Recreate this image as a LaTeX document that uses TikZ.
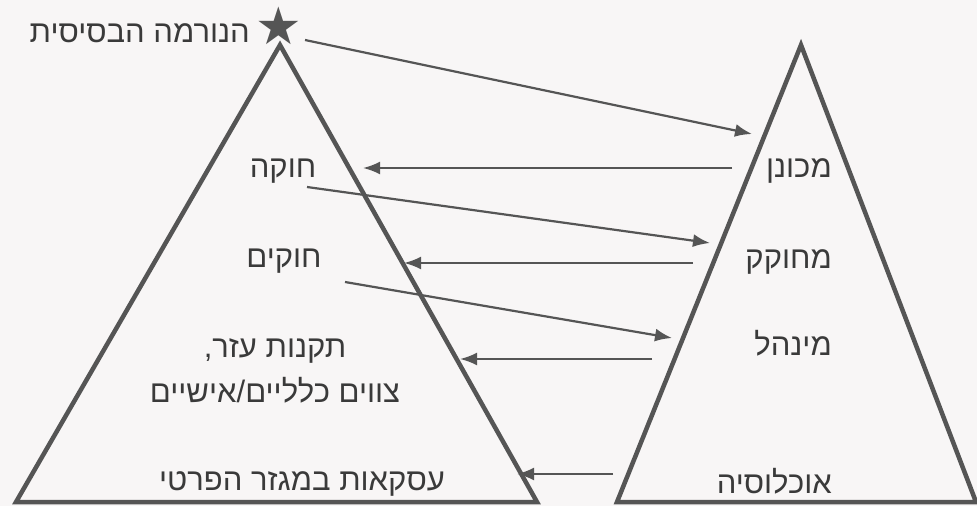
\documentclass[tikz,border=0pt]{standalone}
\usepackage{fontspec}
\TeXXeTstate=1
\newfontfamily\hebfont[Script=Hebrew]{Liberation Sans}
\newfontfamily\symfont{DejaVu Sans}
\usetikzlibrary{arrows.meta}
\definecolor{ink}{HTML}{555555}
\definecolor{txt}{HTML}{3A3A3A}
\definecolor{bg}{HTML}{F8F6F6}
\begin{document}
\begin{tikzpicture}[x=1pt,y=-1pt,
  tri/.style={draw=ink, line width=4.5pt, line join=miter},
  conn/.style={draw=ink, line width=2.2pt, -{Latex[length=17pt,width=13pt]}},
  lbl/.style={text=txt, font=\hebfont\fontsize{31}{36}\selectfont, inner sep=0pt},
]
\fill[bg] (0,0) rectangle (977,506);
\useasboundingbox (0,0) rectangle (977,506);
% triangles
\coordinate (LA) at (280,45);
\coordinate (LB) at (16,502);
\coordinate (LC) at (537,502);
\coordinate (RA) at (801,45);
\coordinate (RB) at (617,502);
\coordinate (RC) at (976,502);
\draw[tri] (LA) -- (LC) -- (LB) -- cycle;
\draw[tri] (RA) -- (RC) -- (RB) -- cycle;
% labels
\node[lbl, anchor=base east] (norm) at (250,42) {\beginR הנורמה הבסיסית\endR};
\node[text=ink, font=\symfont\fontsize{52}{52}\selectfont, inner sep=0pt] (star) at (279,26) {★};
\node[lbl, anchor=base] (hukka) at (283,177) {\beginR חוקה\endR};
\node[lbl, anchor=base] (hukim) at (284,267) {\beginR חוקים\endR};
\node[lbl, anchor=base] (takanot) at (275,357) {\beginR תקנות עזר,\endR};
\node[lbl, anchor=base] (tzavim) at (275,402) {\beginR צווים כלליים/אישיים\endR};
\node[lbl, anchor=base] (iskaot) at (302,490) {\beginR עסקאות במגזר הפרטי\endR};
\node[lbl, anchor=base east] (mechonen) at (832,177) {\beginR מכונן\endR};
\node[lbl, anchor=base east] (mehokek) at (832,268) {\beginR מחוקק\endR};
\node[lbl, anchor=base east] (minhal) at (832,355) {\beginR מינהל\endR};
\node[lbl, anchor=base east] (ukhlusiya) at (832,493) {\beginR אוכלוסיה\endR};
% connector ends
\coordinate (s0) at (305,40);   \coordinate (s1) at (752,134);
\coordinate (a0) at (732,168);  \coordinate (a1) at (363,168);
\coordinate (b0) at (307,187);  \coordinate (b1) at (710,243);
\coordinate (c0) at (693,263);  \coordinate (c1) at (404,263);
\coordinate (d0) at (345,282);  \coordinate (d1) at (672,338);
\coordinate (e0) at (652,359);  \coordinate (e1) at (460,359);
\coordinate (f0) at (613,474);  \coordinate (f1) at (517,474);
\draw[conn] (s0) -- (s1);
\draw[conn] (a0) -- (a1);
\draw[conn] (b0) -- (b1);
\draw[conn] (c0) -- (c1);
\draw[conn] (d0) -- (d1);
\draw[conn] (e0) -- (e1);
\draw[conn] (f0) -- (f1);
\end{tikzpicture}
\end{document}
